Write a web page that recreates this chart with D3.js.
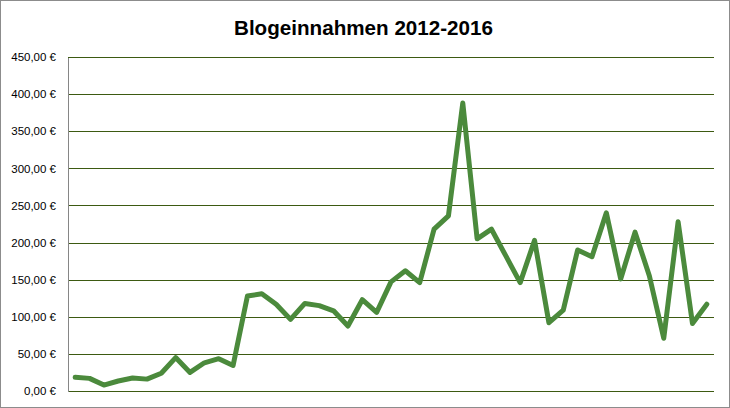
<!DOCTYPE html>
<html>
<head>
<meta charset="utf-8">
<script src="https://cdn.jsdelivr.net/npm/d3@7"></script>
<style>
  html, body { margin: 0; padding: 0; background: #fff; }
  svg { display: block; }
</style>
</head>
<body>
<svg id="chart" width="730" height="408"></svg>
<script>
const title = "Blogeinnahmen 2012-2016";
const categories = [
  "1","2","3","4","5","6","7","8","9","10",
  "11","12","13","14","15","16","17","18","19","20",
  "21","22","23","24","25","26","27","28","29","30",
  "31","32","33","34","35","36","37","38","39","40",
  "41","42","43","44","45"
];
const values = [
  18.5, 17, 8, 13.5, 17.5, 16, 24, 45, 25, 38,
  43.5, 34.5, 128, 131, 117, 96.5, 118, 115, 108, 87.5,
  123, 106, 147, 162, 146, 218, 236, 388, 205, 218,
  182, 146, 203, 92, 109, 190, 181, 240, 151, 214,
  155, 71, 228, 91, 117
];
const yTicks = [0, 50, 100, 150, 200, 250, 300, 350, 400, 450];
const yTickLabels = ["0,00 €","50,00 €","100,00 €","150,00 €","200,00 €","250,00 €","300,00 €","350,00 €","400,00 €","450,00 €"];

const svg = d3.select("#chart");
const W = 730, H = 408;
const m = { left: 68, right: 16, top: 57, bottom: 17 };

// outer border
svg.append("rect").attr("x", 0.5).attr("y", 0.5).attr("width", W - 1).attr("height", H - 1)
  .attr("fill", "#fff").attr("stroke", "#8c8c8c").attr("stroke-width", 1);

const x = d3.scalePoint().domain(categories).range([m.left, W - m.right]).padding(0.5);
const y = d3.scaleLinear().domain([0, 450]).range([H - m.bottom, m.top]);

// gridlines
const grid = d3.axisLeft(y).tickValues(yTicks).tickSize(-(W - m.left - m.right)).tickFormat("");
const g = svg.append("g").attr("transform", `translate(${m.left},0)`).call(grid);
g.select(".domain").remove();
g.selectAll(".tick").attr("transform", d => `translate(0,${Math.round(y(d)) + 0.5})`);
g.selectAll(".tick line").attr("stroke", "#3d5a12").attr("stroke-width", 1);

// y axis with labels
const yAxis = d3.axisLeft(y).tickValues(yTicks).tickSize(0).tickPadding(12)
  .tickFormat((d, i) => yTickLabels[i]);
const ya = svg.append("g").attr("transform", `translate(${m.left},0)`).call(yAxis);
ya.select(".domain").attr("stroke", "#868686").attr("stroke-width", 1).attr("shape-rendering", "crispEdges");
ya.selectAll("text").attr("font-family", "Liberation Sans, Arial, sans-serif")
  .attr("font-size", "11.5px").attr("fill", "#000");

// line
const line = d3.line().x((d, i) => x(categories[i])).y(d => y(d));
svg.append("path").datum(values).attr("d", line)
  .attr("fill", "none").attr("stroke", "#4b8a3c").attr("stroke-width", 5)
  .attr("stroke-linejoin", "round").attr("stroke-linecap", "round");

// title
svg.append("text").attr("x", 363.5).attr("y", 35).attr("text-anchor", "middle")
  .attr("font-family", "Liberation Sans, Arial, sans-serif").attr("font-weight", "bold")
  .attr("font-size", "21px").attr("textLength", 259).attr("lengthAdjust", "spacingAndGlyphs")
  .attr("fill", "#000").text(title);
</script>
</body>
</html>
